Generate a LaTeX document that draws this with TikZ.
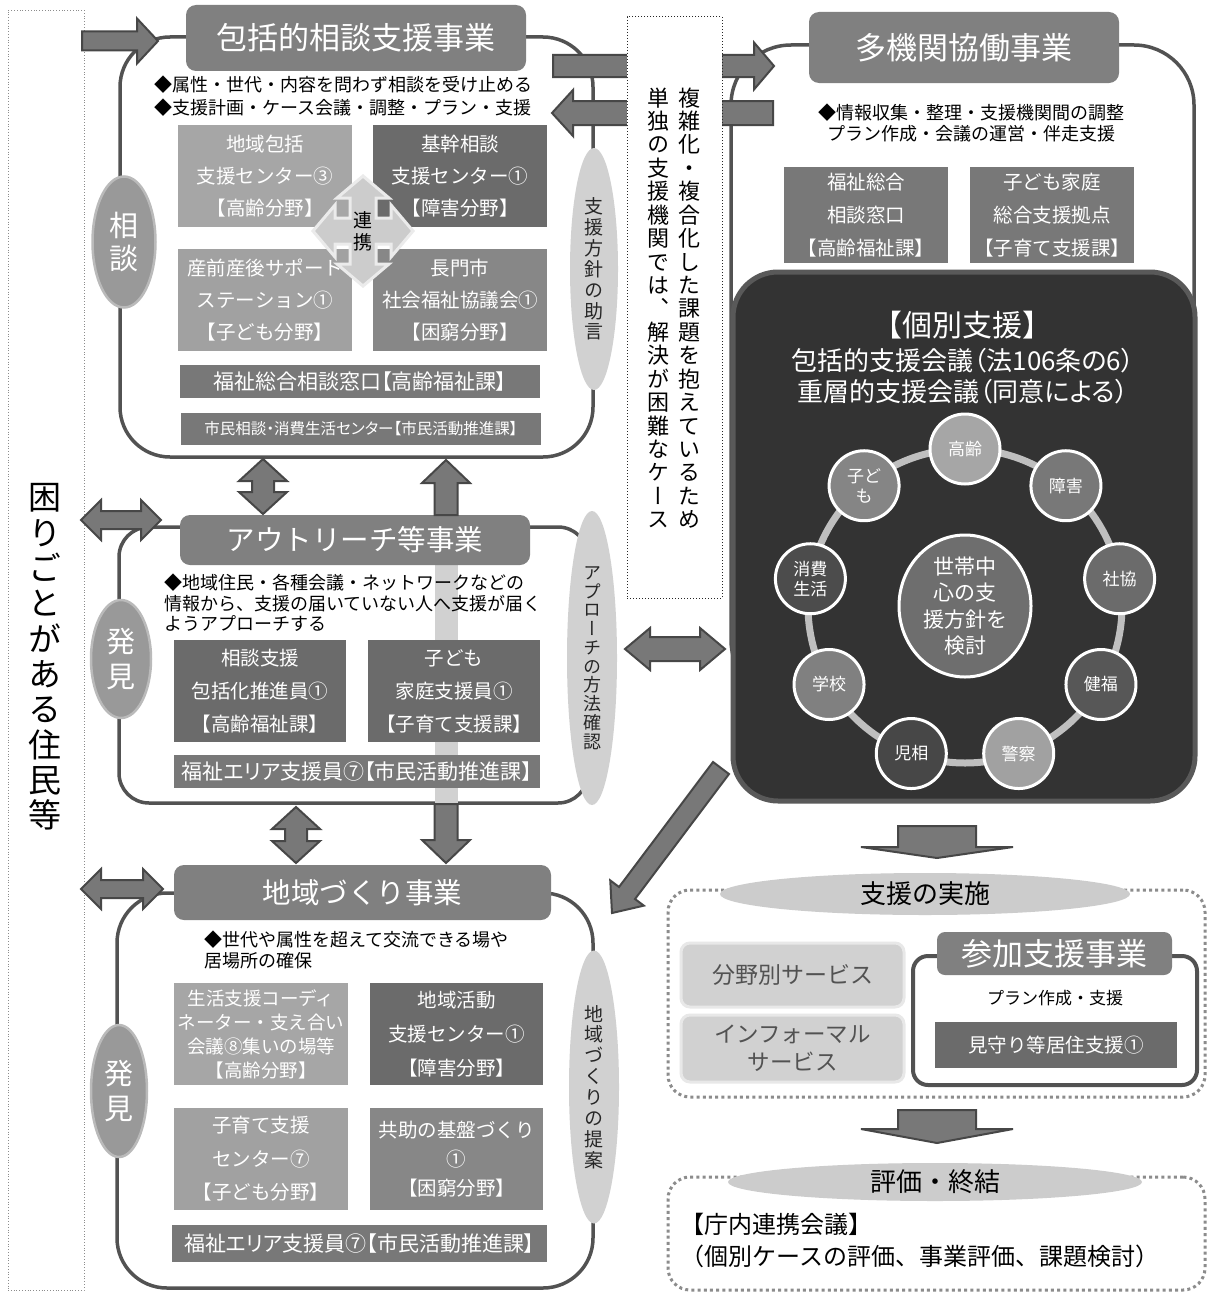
\documentclass[tikz,border=0pt]{standalone}
\usepackage{fontspec}
\setmainfont{Noto Sans CJK JP}
\newfontfamily\tatefont{Noto Sans CJK JP}[RawFeature=+vert]
\newfontfamily\propfont{Noto Sans CJK JP}[RawFeature=+palt]
\usetikzlibrary{%
  shapes.geometric,% ellipse
  calc,% let, ($..$)
  positioning%
}

\colorlet{framecol}{black!68}
\colorlet{titlecol}{black!50}
\colorlet{lightbox}{black!35}
\colorlet{midbox}{black!47}
\colorlet{darkbox}{black!58}
\colorlet{barcol}{black!53}
\colorlet{arrowcol}{black!53}
\colorlet{arrowedge}{black!72}
\colorlet{sidecol}{black!18}
\colorlet{findcol}{black!40}

% tategaki: one character per line
\ExplSyntaxOn
\NewDocumentCommand \tate { O{1.1} m }
  {
    \vbox:n
      {
        \tatefont
        \skip_set:Nn \baselineskip { #1 em }
        \dim_set:Nn \lineskiplimit { -100pt }
        \tl_map_inline:nn {#2} { \hbox_to_wd:nn { 1em } { \hss ##1 \hss } }
      }
  }
\ExplSyntaxOff

% fat block arrows between two named points
\newcommand\fatdir[2]{%
  \path let \p1=#1, \p2=#2 in \pgfextra{%
    \pgfmathsetmacro\fatang{atan2(\y2-\y1,\x2-\x1)}%
    \pgfmathsetmacro\fatlen{veclen(\x2-\x1,\y2-\y1)}%
    \global\let\fatang\fatang
    \global\let\fatlen\fatlen};}
\newcommand\fatarrow[5][20]{%
  \fatdir{#2}{#3}%
  \draw[bigarrow, shift={#2}, rotate=\fatang]
    (0,-#4) -- ({\fatlen-#1},-#4) -- ({\fatlen-#1},-#5) -- (\fatlen,0)
    -- ({\fatlen-#1},#5) -- ({\fatlen-#1},#4) -- (0,#4) -- cycle;}
\newcommand\fatboth[5][20]{%
  \fatdir{#2}{#3}%
  \draw[bigarrow, shift={#2}, rotate=\fatang]
    (0,0) -- (#1,-#5) -- (#1,-#4) -- ({\fatlen-#1},-#4) -- ({\fatlen-#1},-#5)
    -- (\fatlen,0) -- ({\fatlen-#1},#5) -- ({\fatlen-#1},#4) -- (#1,#4) -- (#1,#5) -- cycle;}

\tikzset{
  wh/.style 2 args={minimum width=#1, minimum height=#2},
  unitframe/.style={draw=framecol, line width=3.5pt, rounded corners=#1,
    inner sep=0pt, outer sep=0pt},
  unitframe/.default=50pt,
  unittitle/.style={fill=titlecol, text=white, rounded corners=10pt,
    inner sep=0pt, outer sep=0pt, font=\fontsize{31}{36}\selectfont},
  orgbox/.style={inner sep=0pt, outer sep=0pt, text=white, align=center,
    font=\fontsize{19.5}{32}\selectfont},
  barbox/.style={orgbox, fill=barcol, font=\propfont\fontsize{21}{24}\selectfont},
  sideoval/.style={ellipse, fill=sidecol, inner sep=0pt, text=black!85,
    font=\fontsize{19}{21}\selectfont},
  findoval/.style={ellipse, fill=findcol, draw=black!27, line width=2.5pt,
    inner sep=0pt, text=white, font=\fontsize{29}{32}\selectfont},
  note/.style={inner sep=0pt, align=left, font=\fontsize{18}{23}\selectfont},
  bigarrow/.style={fill=arrowcol, draw=arrowedge, line width=2pt},
  linkcross/.style={fill=black!20, draw=black!8, line width=3pt},
  member/.style={circle, minimum size=70, inner sep=0pt, draw=white,
    line width=3pt, text=white, align=center, font=\fontsize{17}{20}\selectfont},
  servbox/.style={fill=black!18, draw=black!9, line width=3pt,
    rounded corners=9pt, text=black!68, align=center, inner sep=0pt,
    font=\fontsize{22.5}{28}\selectfont},
  dotframe/.style={draw=black!45, line width=3pt, dash pattern=on 3pt off 3.2pt,
    rounded corners=22pt, inner sep=0pt},
  stageoval/.style={ellipse, fill=black!20, inner sep=0pt,
    font=\fontsize{26}{30}\selectfont}
}

\begin{document}
\begin{tikzpicture}[x=1pt, y=-1pt]
\fill[white] (0,0) rectangle (1208,1298);
\useasboundingbox (0,0) rectangle (1208,1298);

% residents column
\node[draw=black!45, dotted, line width=0.8pt, inner sep=0pt, wh={76}{1280}] (residents) at (46,650) {};
\node[font=\fontsize{33}{36}\selectfont] (residentstext) at (45,657) {\tate[1.07]{困りごとがある住民等}};

% frames of the four projects
\node[unitframe, wh={473}{420}] (consultframe) at (356.5,247) {};
\node[unitframe=30pt, wh={469}{276}] (outreachframe) at (353.5,665) {};
\node[unitframe, wh={476}{395}] (communityframe) at (355,1090.5) {};
\node[unitframe=60pt, wh={463}{655}] (multiframe) at (962.5,372.5) {};

% up/down arrow seen through the outreach frame
\fill[black!18] (435,563) rectangle (458,804);

% consultation
\node[unittitle, wh={340}{66}] (consulttitle) at (356,38) {包括的相談支援事業};
\node[note, anchor=west] (consultnote) at (154,96.5) {◆属性・世代・内容を問わず相談を受け止める\\◆支援計画・ケース会議・調整・プラン・支援};
\node[orgbox, fill=lightbox, wh={174}{102}] (houkatsu) at (265,176) {地域包括\\支援センター③\\【高齢分野】};
\node[orgbox, fill=darkbox, wh={174}{102}] (kikan) at (460,176) {基幹相談\\支援センター①\\【障害分野】};
\node[orgbox, fill=black!37, wh={174}{102}] (sanzen) at (265,300) {産前産後サポート\\ステーション①\\【子ども分野】};
\node[orgbox, fill=midbox, wh={174}{102}] (shakyo) at (460,300) {長門市\\社会福祉協議会①\\【困窮分野】};
\node[barbox, wh={360}{33}] (soudanmado) at (360,381.5) {福祉総合相談窓口【高齢福祉課】};
\node[barbox, wh={360}{32}, font=\propfont\fontsize{15.5}{18}\selectfont] (shimin) at (361,429) {市民相談・消費生活センター【市民活動推進課】};

\coordinate (renkei) at (363,231);
\draw[linkcross, shift={(renkei)}] (0,-55) -- (26,-33) -- (13,-33) -- (13,-13) -- (28,-13)
  -- (28,-26) -- (50,0) -- (28,26) -- (28,13) -- (13,13) -- (13,33) -- (26,33) -- (0,55)
  -- (-26,33) -- (-13,33) -- (-13,13) -- (-28,13) -- (-28,26) -- (-50,0) -- (-28,-26)
  -- (-28,-13) -- (-13,-13) -- (-13,-33) -- (-26,-33) -- cycle;
\node[font=\fontsize{19}{22}\selectfont] (renkeitext) at (renkei) {\tate[1.15]{連携}};

\node[findoval, wh={63}{131}] (soudan) at (124,242) {\tate[1.12]{相談}};
\node[sideoval, wh={48}{242}] (advice) at (594,269) {\tate[1.1]{支援方針の助言}};

% outreach
\node[unittitle, wh={350}{50}, font=\fontsize{28.5}{32}\selectfont] (outreachtitle) at (355,540) {アウトリーチ等事業};
\node[note, anchor=west, font=\fontsize{18}{20.5}\selectfont] (outreachnote) at (164,603) {◆地域住民・各種会議・ネットワークなどの\\情報から、支援の届いていない人へ支援が届く\\ようアプローチする};
\node[orgbox, fill=darkbox, wh={172}{102}, font=\fontsize{19.5}{33}\selectfont] (suishin) at (260,691) {相談支援\\包括化推進員①\\【高齢福祉課】};
\node[orgbox, fill=darkbox, wh={172}{102}, font=\fontsize{19.5}{33}\selectfont] (katei) at (454,691) {子ども\\家庭支援員①\\【子育て支援課】};
\node[barbox, wh={366}{33}] (area1) at (357,771.5) {福祉エリア支援員⑦【市民活動推進課】};
\node[findoval, wh={60}{118}] (hakken1) at (121,659) {\tate[1.2]{発見}};
\node[sideoval, wh={50}{294}, font=\fontsize{18}{20}\selectfont] (approach) at (592,658) {\tate[1.04]{アプローチの方法確認}};

% community
\node[unittitle, wh={377}{55}, font=\fontsize{28.5}{32}\selectfont] (communitytitle) at (362.5,892.5) {地域づくり事業};
\node[note, anchor=west, font=\fontsize{18}{20.5}\selectfont] (communitynote) at (204,950) {◆世代や属性を超えて交流できる場や\\居場所の確保};
\node[orgbox, fill=lightbox, wh={174}{102}, font=\fontsize{18.5}{24}\selectfont] (seikatsu) at (261,1034) {生活支援コーディ\\ネーター・支え合い\\会議⑧集いの場等\\【高齢分野】};
\node[orgbox, fill=darkbox, wh={173}{102}, font=\fontsize{19.5}{34}\selectfont] (katsudou) at (456.5,1034) {地域活動\\支援センター①\\【障害分野】};
\node[orgbox, fill=black!37, wh={174}{102}, font=\fontsize{19.5}{33.5}\selectfont] (kosodate) at (261,1159) {子育て支援\\センター⑦\\【子ども分野】};
\node[orgbox, fill=midbox, wh={173}{102}, font=\fontsize{19.5}{29}\selectfont] (kyoujo) at (456.5,1159) {共助の基盤づくり\\①\\【困窮分野】};
\node[barbox, wh={375}{37}] (area2) at (359.5,1243.5) {福祉エリア支援員⑦【市民活動推進課】};
\node[findoval, wh={56}{132}] (hakken2) at (119,1091) {\tate[1.2]{発見}};
\node[sideoval, wh={50}{273}] (proposal) at (594,1087) {\tate[1.1]{地域づくりの提案}};

% multi-agency
\node[unittitle, wh={310}{71}] (multititle) at (964,47.5) {多機関協働事業};
\node[note, align=center, font=\fontsize{18}{20.5}\selectfont] (multinote) at (971,123) {◆情報収集・整理・支援機関間の調整\\プラン作成・会議の運営・伴走支援};
\node[orgbox, fill=barcol, wh={164}{96}, font=\fontsize{19.5}{33}\selectfont] (fukushimado) at (866,215) {福祉総合\\相談窓口\\【高齢福祉課】};
\node[orgbox, fill=barcol, wh={164}{96}, font=\fontsize{19.5}{33}\selectfont] (kyoten) at (1052,215) {子ども家庭\\総合支援拠点\\【子育て支援課】};

% arrows
\coordinate (inflow) at (82,41);      \coordinate (inflowtip) at (158,41);
\coordinate (resmid) at (81,520);     \coordinate (resmidtip) at (161,520);
\coordinate (reslow) at (81,889);     \coordinate (reslowtip) at (163,889);
\coordinate (tomulti) at (553,66);    \coordinate (tomultitip) at (774,66);
\coordinate (fromulti) at (773,113);  \coordinate (fromultitip) at (552,113);
\coordinate (linkA) at (263,459);     \coordinate (linkAtip) at (263,514);
\coordinate (upbase) at (446,515);    \coordinate (uptip) at (446,460);
\coordinate (linkB) at (296,807);     \coordinate (linkBtip) at (296,863);
\coordinate (downbase) at (446,804);  \coordinate (downtip) at (446,863);
\coordinate (caselink) at (625,649);  \coordinate (caselinktip) at (725,649);
\coordinate (diagbase) at (721,768);  \coordinate (diagtip) at (612,913);
\fatarrow[21]{(inflow)}{(inflowtip)}{9.5}{22.5}
\fatboth[20]{(resmid)}{(resmidtip)}{9}{20}
\fatboth[20]{(reslow)}{(reslowtip)}{9}{20}
\fatarrow[20]{(tomulti)}{(tomultitip)}{11}{23.5}
\fatarrow[21]{(fromulti)}{(fromultitip)}{12}{23}
\fatboth[22]{(linkA)}{(linkAtip)}{11}{24}
\fatarrow[23]{(upbase)}{(uptip)}{11.5}{24}
\fatboth[22]{(linkB)}{(linkBtip)}{11}{24}
\fatarrow[23]{(downbase)}{(downtip)}{11.5}{24}
\fatboth[25]{(caselink)}{(caselinktip)}{12}{21}
\fatarrow[25]{(diagbase)}{(diagtip)}{10}{21}

% hard cases
\node[fill=white, draw=black!85, dotted, line width=1pt, inner sep=0pt, wh={95}{581}] (hardcase) at (674.5,307.5) {};
\node[anchor=north, font=\fontsize{22}{24}\selectfont] (hardcase1) at (689,84) {\tate[1.065]{複雑化・複合化した課題を抱えているため}};
\node[anchor=north, font=\fontsize{22}{24}\selectfont] (hardcase2) at (658,84) {\tate[1.065]{単独の支援機関では、解決が困難なケース}};

% individual support
\node[fill=black!80, draw=black!65, line width=5pt, rounded corners=45pt, inner sep=0pt, wh={462}{529}] (casebox) at (964,536.5) {};
\node[text=white, font=\fontsize{30}{34}\selectfont] (casehead) at (962,325) {【個別支援】};
\node[text=white, align=center, font=\propfont\fontsize{26}{31}\selectfont] (casemeet) at (963,376.5) {包括的支援会議（法106条の6）\\重層的支援会議（同意による）};
\coordinate (ringc) at (965,606);
\draw[black!25, line width=7pt] (ringc) circle[radius=157];
\foreach \lab/\ang/\tone [count=\i] in {高齢/-90/35, 障害/-50/53, 社協/-10/58, 健福/30/66,
    警察/70/37, 児相/110/72, 学校/150/50, {消費\\生活}/-170/70, {子ど\\も}/-130/48}
  \node[member, fill=black!\tone] (m\i) at ($(ringc)+(\ang:157)$) {\lab};
\node[ellipse, fill=black!57, draw=white, line width=3pt, inner sep=0pt, wh={132}{142},
  text=white, align=center, font=\fontsize{21}{26.5}\selectfont] (hub) at (ringc) {世帯中\\心の支\\援方針を\\検討};

% implementation
\coordinate (toimpl) at (937,826);   \coordinate (toimpltip) at (937,858);
\fatarrow[11]{(toimpl)}{(toimpltip)}{39}{76}
\node[dotframe, wh={537}{207}] (implframe) at (936.5,993.5) {};
\node[stageoval, wh={410}{42}] (implement) at (925,894) {支援の実施};
\node[servbox, wh={223}{64}, font=\fontsize{23}{28}\selectfont] (bunya) at (792.5,975) {分野別サービス};
\node[servbox, wh={223}{67}] (informal) at (792.5,1048.5) {インフォーマル\\サービス};
\node[unitframe=15pt, line width=4pt, wh={284}{129}] (participframe) at (1055,1020.5) {};
\node[unittitle, rounded corners=8pt, wh={235}{43}] (participtitle) at (1054.5,953.5) {参加支援事業};
\node[font=\fontsize{17}{20}\selectfont] (plan) at (1055,998) {プラン作成・支援};
\node[orgbox, fill=darkbox, wh={242}{46}] (mimamori) at (1056,1045) {見守り等居住支援①};

% evaluation
\coordinate (toeval) at (937,1110);  \coordinate (toevaltip) at (937,1143);
\fatarrow[14]{(toeval)}{(toevaltip)}{39}{76}
\node[dotframe, wh={537}{113}] (evalframe) at (936.5,1233.5) {};
\node[stageoval, wh={414}{38}] (evaluate) at (935,1182) {評価・終結};
\node[anchor=west, align=left, inner sep=0pt, font=\fontsize{24}{32}\selectfont] (evaltext) at (680,1240) {【庁内連携会議】\\（個別ケースの評価、事業評価、課題検討）};
\end{tikzpicture}
\end{document}
